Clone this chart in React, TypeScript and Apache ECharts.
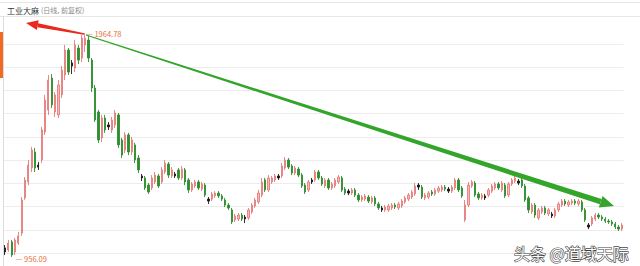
import React, { useEffect, useRef } from "react";
import * as echarts from "echarts";

const opens = [997, 988, 1024, 979, 1019, 1064, 1222, 1294, 1357, 1429, 1361, 1393, 1519, 1618, 1762, 1609, 1596, 1686, 1776, 1888, 1816, 1807, 1897, 1852, 1911, 1933, 1843, 1717, 1609, 1492, 1582, 1542, 1528, 1551, 1596, 1483, 1438, 1506, 1429, 1461, 1402, 1312, 1312, 1280, 1267, 1294, 1321, 1294, 1339, 1375, 1321, 1321, 1348, 1312, 1348, 1303, 1258, 1276, 1294, 1262, 1280, 1208, 1217, 1231, 1244, 1231, 1213, 1190, 1168, 1123, 1127, 1145, 1127, 1132, 1159, 1186, 1204, 1235, 1303, 1258, 1294, 1303, 1312, 1321, 1357, 1393, 1366, 1334, 1352, 1325, 1280, 1258, 1294, 1303, 1339, 1312, 1276, 1303, 1267, 1276, 1294, 1312, 1262, 1244, 1244, 1258, 1235, 1213, 1217, 1226, 1204, 1222, 1195, 1168, 1168, 1168, 1177, 1190, 1177, 1186, 1204, 1217, 1226, 1240, 1271, 1271, 1222, 1226, 1249, 1240, 1253, 1258, 1271, 1253, 1253, 1267, 1303, 1267, 1123, 1190, 1276, 1289, 1240, 1222, 1222, 1235, 1253, 1267, 1285, 1258, 1280, 1235, 1285, 1298, 1289, 1303, 1276, 1222, 1159, 1190, 1132, 1159, 1177, 1150, 1141, 1141, 1168, 1190, 1208, 1190, 1199, 1208, 1195, 1204, 1168, 1091, 1105, 1127, 1145, 1136, 1127, 1118, 1114, 1105, 1091, 1082];
const closes = [979, 1019, 965, 1033, 1051, 1213, 1303, 1370, 1438, 1357, 1370, 1528, 1663, 1753, 1641, 1686, 1731, 1798, 1888, 1789, 1830, 1911, 1843, 1942, 1942, 1852, 1717, 1573, 1483, 1582, 1528, 1551, 1573, 1605, 1461, 1415, 1506, 1429, 1483, 1393, 1348, 1321, 1267, 1249, 1312, 1325, 1276, 1348, 1379, 1325, 1348, 1330, 1312, 1352, 1294, 1258, 1285, 1294, 1267, 1285, 1235, 1217, 1240, 1244, 1231, 1217, 1190, 1177, 1114, 1141, 1145, 1127, 1136, 1168, 1190, 1213, 1244, 1294, 1258, 1312, 1312, 1321, 1321, 1366, 1393, 1361, 1334, 1357, 1325, 1276, 1249, 1294, 1303, 1339, 1312, 1285, 1303, 1267, 1285, 1303, 1316, 1258, 1244, 1253, 1258, 1235, 1213, 1226, 1231, 1208, 1222, 1195, 1177, 1177, 1181, 1186, 1190, 1181, 1195, 1208, 1222, 1235, 1249, 1276, 1280, 1226, 1235, 1244, 1240, 1258, 1267, 1271, 1262, 1262, 1271, 1303, 1258, 1231, 1190, 1280, 1294, 1235, 1222, 1235, 1231, 1258, 1276, 1285, 1267, 1289, 1231, 1285, 1303, 1312, 1298, 1276, 1213, 1168, 1190, 1145, 1168, 1177, 1154, 1168, 1150, 1168, 1195, 1208, 1195, 1204, 1208, 1199, 1208, 1168, 1123, 1100, 1132, 1145, 1136, 1127, 1118, 1114, 1105, 1091, 1082, 1100];
const lows = [965, 979, 956.09, 965, 1010, 1051, 1213, 1280, 1339, 1339, 1348, 1379, 1506, 1596, 1627, 1587, 1582, 1672, 1753, 1776, 1780, 1789, 1825, 1834, 1879, 1834, 1699, 1564, 1470, 1474, 1515, 1528, 1515, 1537, 1447, 1402, 1424, 1415, 1415, 1379, 1334, 1298, 1258, 1240, 1258, 1285, 1267, 1285, 1330, 1312, 1312, 1312, 1303, 1303, 1280, 1244, 1249, 1267, 1258, 1253, 1226, 1195, 1208, 1222, 1222, 1208, 1181, 1168, 1105, 1114, 1118, 1118, 1109, 1123, 1150, 1177, 1195, 1226, 1249, 1249, 1285, 1294, 1303, 1312, 1348, 1352, 1325, 1325, 1316, 1267, 1240, 1249, 1285, 1294, 1303, 1276, 1267, 1258, 1258, 1267, 1285, 1249, 1235, 1235, 1235, 1226, 1204, 1204, 1208, 1199, 1195, 1186, 1168, 1159, 1159, 1159, 1168, 1172, 1168, 1177, 1195, 1208, 1217, 1231, 1258, 1217, 1213, 1217, 1231, 1231, 1244, 1249, 1253, 1244, 1244, 1258, 1249, 1222, 1114, 1181, 1267, 1226, 1213, 1213, 1213, 1226, 1244, 1258, 1258, 1249, 1222, 1226, 1276, 1289, 1280, 1267, 1204, 1154, 1150, 1132, 1123, 1150, 1145, 1141, 1132, 1132, 1159, 1181, 1186, 1181, 1190, 1190, 1186, 1159, 1114, 1082, 1096, 1118, 1127, 1118, 1109, 1105, 1096, 1082, 1073, 1073];
const highs = [1010, 1033, 1033, 1042, 1069, 1226, 1316, 1393, 1452, 1447, 1384, 1542, 1686, 1776, 1780, 1699, 1753, 1816, 1911, 1897, 1843, 1933, 1911, 1956, 1964.78, 1951, 1852, 1731, 1618, 1596, 1596, 1564, 1587, 1618, 1605, 1492, 1519, 1515, 1497, 1470, 1415, 1330, 1321, 1289, 1325, 1339, 1330, 1361, 1393, 1384, 1361, 1339, 1357, 1366, 1357, 1312, 1294, 1303, 1303, 1294, 1289, 1226, 1249, 1253, 1253, 1240, 1222, 1199, 1177, 1150, 1154, 1154, 1145, 1177, 1199, 1222, 1258, 1312, 1312, 1325, 1321, 1330, 1330, 1379, 1406, 1402, 1375, 1366, 1361, 1334, 1289, 1303, 1312, 1348, 1348, 1321, 1312, 1312, 1294, 1312, 1325, 1321, 1271, 1262, 1267, 1267, 1244, 1235, 1240, 1235, 1231, 1231, 1204, 1186, 1190, 1195, 1199, 1199, 1204, 1217, 1231, 1244, 1258, 1289, 1289, 1280, 1244, 1253, 1258, 1267, 1276, 1280, 1280, 1271, 1280, 1312, 1312, 1276, 1213, 1294, 1303, 1298, 1249, 1244, 1240, 1267, 1285, 1294, 1294, 1298, 1289, 1294, 1312, 1325, 1307, 1312, 1285, 1231, 1199, 1199, 1177, 1186, 1186, 1177, 1159, 1177, 1204, 1217, 1217, 1213, 1217, 1217, 1217, 1213, 1177, 1109, 1141, 1154, 1154, 1145, 1136, 1127, 1123, 1114, 1100, 1109];
// days carrying the black marker squares
const markerDays = [0, 10, 20, 31, 41, 51, 61, 72, 82, 92, 103, 113, 124, 133, 144, 154, 164, 175];
const days = opens.map((_, i) => String(i + 1));

const TITLE = "工业大麻";
const SUBTITLE = "(日线, 前复权)";
const WATERMARK = "头条 @道域天际";

const FONT = "'Noto Sans CJK SC', 'Noto Sans', sans-serif";

export default function App() {
  const ref = useRef<HTMLDivElement>(null);
  useEffect(() => {
    const chart = echarts.init(ref.current!, null, { renderer: "svg" });
    const black = { color: "#1a1a1a", color0: "#1a1a1a", borderColor: "#1a1a1a", borderColor0: "#1a1a1a" };
    const data = opens.map((o, i) => {
      const v = [o, closes[i], lows[i], highs[i]];
      return markerDays.includes(i) ? { value: v, itemStyle: black } : v;
    });
    const extremeLabel = {
      show: true,
      position: "right",
      distance: 1,
      formatter: (p: any) => "— " + Number(p.value).toFixed(2),
      color: "#e8703c",
      fontSize: 7.5,
      fontFamily: FONT,
    };

    chart.setOption({
      animation: false,
      backgroundColor: "#ffffff",
      textStyle: { fontFamily: FONT },
      grid: {
        left: 3.33,
        width: 620.27,
        top: 20.5,
        height: 255.75,
        containLabel: false,
        outerBoundsMode: "none",
      },
      xAxis: {
        type: "category",
        data: days,
        boundaryGap: true,
        axisLine: { show: false },
        axisTick: { show: false },
        axisLabel: { show: false },
        splitLine: { show: false },
      },
      yAxis: [
        {
          type: "value",
          min: 869.4,
          max: 2021.1,
          axisLine: { show: false },
          axisTick: { show: false },
          axisLabel: { show: false },
          splitLine: { show: false },
        },
        {
          type: "value",
          min: 0,
          max: 11,
          interval: 1,
          axisLine: { show: false },
          axisTick: { show: false },
          axisLabel: { show: false },
          splitLine: { show: true, showMaxLine: false, lineStyle: { color: "#ececec", width: 1 } },
        },
      ],
      series: [
        {
          type: "candlestick",
          yAxisIndex: 0,
          data,
          barWidth: 1.8,
          itemStyle: {
            color: "#f6baba",
            color0: "#2f8f2f",
            borderColor: "#e57a7a",
            borderColor0: "#2f8f2f",
            borderWidth: 0.9,
          },
          markPoint: {
            symbol: "circle",
            symbolSize: 0,
            data: [
              { type: "max", valueDim: "highest", label: { ...extremeLabel } },
              { type: "min", valueDim: "lowest", label: { ...extremeLabel, offset: [3, 2] } },
            ],
          },
        },
      ],
      graphic: [
        { type: "line", z: 100, shape: { x1: 0, y1: 2.5, x2: 640, y2: 2.5 }, style: { stroke: "#e6e6e6", lineWidth: 1 }, silent: true },
        { type: "line", z: 100, shape: { x1: 0, y1: 16.5, x2: 640, y2: 16.5 }, style: { stroke: "#e6e6e6", lineWidth: 1 }, silent: true },
        { type: "line", z: 100, shape: { x1: 3.5, y1: 16, x2: 3.5, y2: 266 }, style: { stroke: "#dcdcdc", lineWidth: 1 }, silent: true },
        { type: "rect", z: 100, shape: { x: 0, y: 32, width: 3, height: 46 }, style: { fill: "#f06b1f" }, silent: true },
        {
          type: "text",
          z: 100,
          x: 7,
          y: 10,
          style: { text: TITLE, fill: "#333", fontSize: 8, fontFamily: FONT, verticalAlign: "middle" },
          silent: true,
        },
        {
          type: "text",
          z: 100,
          x: 41,
          y: 10,
          style: { text: SUBTITLE, fill: "#8a8a8a", fontSize: 7, fontFamily: FONT, verticalAlign: "middle" },
          silent: true,
        },
        // red arrow pointing back to the left
        {
          type: "polygon",
          z: 100,
          shape: { points: [[84.15, 33.21], [38.17, 23.23], [37.43, 27.17], [83.85, 34.79]] },
          style: { fill: "#e8291c" },
          silent: true,
        },
        {
          type: "polygon",
          z: 100,
          shape: { points: [[26, 23], [38.73, 20.3], [36.87, 30.1]] },
          style: { fill: "#e8291c" },
          silent: true,
        },
        // green trend arrow
        {
          type: "polygon",
          z: 100,
          shape: { points: [[85.82, 35.57], [86.18, 34.43], [601.56, 199.04], [599.84, 204.36]] },
          style: { fill: "#33a52a" },
          silent: true,
        },
        {
          type: "polygon",
          z: 100,
          shape: { points: [[614, 206], [598.85, 207.41], [602.55, 195.99]] },
          style: { fill: "#33a52a" },
          silent: true,
        },
        {
          type: "text",
          z: 100,
          x: 514,
          y: 253,
          style: {
            text: WATERMARK,
            fill: "#ffffff",
            fontSize: 16,
            fontFamily: FONT,
            verticalAlign: "middle",
            stroke: "#444",
            lineWidth: 1.2,
          },
          silent: true,
        },
      ],
    });
    return () => chart.dispose();
  }, []);
  return (
    <div
      ref={ref}
      style={{ position: "absolute", left: 0, top: 0, width: 640, height: 266, background: "#fff" }}
    />
  );
}
